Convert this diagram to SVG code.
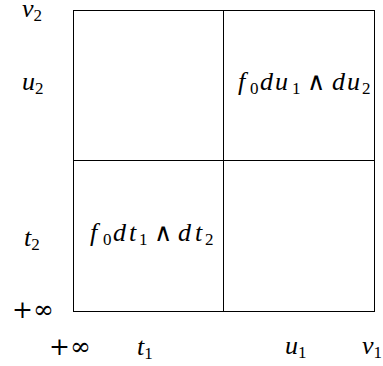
<svg xmlns="http://www.w3.org/2000/svg" width="383" height="366" viewBox="0 0 383 366">
<style>
.grid{fill:none;stroke:#000;stroke-width:1}
</style>
<rect width="383" height="366" fill="#fff"/>
<g id="connectors">
<rect class="grid" x="73.5" y="10.5" width="301" height="301"/>
<line class="grid" x1="223.5" y1="10.5" x2="223.5" y2="311.5"/>
<line class="grid" x1="73.5" y1="160.5" x2="374.5" y2="160.5"/>
</g>
<g id="axis-left">
<text x="22" y="16.5" font-family="Liberation Serif" font-size="26" font-style="italic">v<tspan font-size="17" font-style="normal" dy="4">2</tspan></text>
<text x="22" y="89.5" font-family="Liberation Serif" font-size="26" font-style="italic">u<tspan font-size="17" font-style="normal" dy="4">2</tspan></text>
<text x="24" y="246" font-family="Liberation Serif" font-size="26" font-style="italic">t<tspan font-size="17" font-style="normal" dy="4">2</tspan></text>
<text x="12" y="318" font-family="DejaVu Serif" font-size="25">+∞</text>
</g>
<g id="axis-bottom">
<text x="49" y="355" font-family="DejaVu Serif" font-size="25">+∞</text>
<text x="137" y="355" font-family="Liberation Serif" font-size="26" font-style="italic">t<tspan font-size="17" font-style="normal" dy="4">1</tspan></text>
<text x="285" y="354" font-family="Liberation Serif" font-size="26" font-style="italic">u<tspan font-size="17" font-style="normal" dy="4">1</tspan></text>
<text x="362" y="354" font-family="Liberation Serif" font-size="26" font-style="italic">v<tspan font-size="17" font-style="normal" dy="4">1</tspan></text>
</g>
<g id="cell-top-right">
<text y="90" font-family="Liberation Serif" font-size="26" font-style="italic"><tspan x="238">f</tspan><tspan font-size="17" font-style="normal" x="250" dy="4">0</tspan><tspan x="260" dy="-4">d</tspan><tspan x="275">u</tspan><tspan font-size="17" font-style="normal" x="292" dy="4">1</tspan><tspan font-family="DejaVu Serif" font-size="25" font-style="normal" x="307" dy="-4">∧</tspan><tspan x="332">d</tspan><tspan x="347">u</tspan><tspan font-size="17" font-style="normal" x="362" dy="4">2</tspan></text>
</g>
<g id="cell-bottom-left">
<text y="241" font-family="Liberation Serif" font-size="26" font-style="italic"><tspan x="90">f</tspan><tspan font-size="17" font-style="normal" x="103" dy="4">0</tspan><tspan x="113" dy="-4">d</tspan><tspan x="129">t</tspan><tspan font-size="17" font-style="normal" x="139" dy="4">1</tspan><tspan font-family="DejaVu Serif" font-size="25" font-style="normal" x="154" dy="-4">∧</tspan><tspan x="178">d</tspan><tspan x="195">t</tspan><tspan font-size="17" font-style="normal" x="205" dy="4">2</tspan></text>
</g>
</svg>
